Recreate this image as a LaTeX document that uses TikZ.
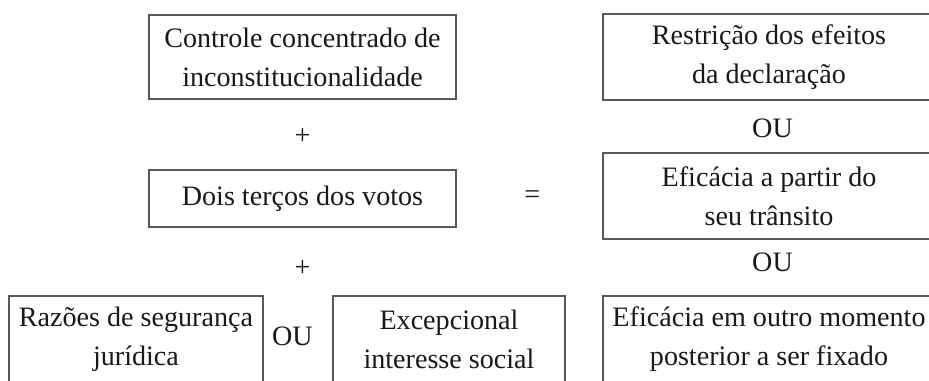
\documentclass[tikz,border=0pt]{standalone}
\usepackage{fontspec}
\setmainfont{Liberation Serif}
\usetikzlibrary{calc}

\begin{document}
\begin{tikzpicture}[font=\fontsize{16pt}{22.2pt}\selectfont, text=black!90,
  box/.style={rectangle, draw=black!65, line width=1pt, fill=white, align=center, inner sep=0pt}]
\useasboundingbox (0,0) rectangle (18.58,-7.62);

\coordinate (ctrl) at (6.05,-1.14);
\coordinate (dois) at ($(ctrl) + (0,-2.83)$);
\coordinate (restr) at (15.38,-1.14);
\coordinate (efic) at ($(restr) + (0,-2.78)$);
\coordinate (outro) at ($(efic) + (0,-2.86)$);
\coordinate (razoes) at (2.72,-6.78);
\coordinate (excep) at (8.98,-6.78);

\node[box, minimum width=6.14cm, minimum height=1.68cm] (n-ctrl) at (ctrl) {Controle concentrado de\\inconstitucionalidade};
\node (plus1) at ($(ctrl) + (0,-1.60)$) {+};
\node[box, minimum width=6.14cm, minimum height=1.14cm] (n-dois) at (dois) {Dois terços dos votos};
\node (plus2) at ($(dois) + (0,-1.40)$) {+};

\node[box, minimum width=5.08cm, minimum height=1.72cm] (n-razoes) at (razoes) {Razões de segurança\\jurídica};
\node (ou-mid) at ($(razoes)!0.5!(excep) + (0,0.06)$) {OU};
\node[box, minimum width=4.64cm, minimum height=1.72cm] (n-excep) at (excep) {Excepcional\\interesse social};

\node[box, minimum width=6.64cm, minimum height=1.72cm] (n-restr) at (restr) {Restrição dos efeitos\\da declaração};
\node (ou1) at ($(restr) + (0.07,-1.42)$) {OU};
\node[box, minimum width=6.64cm, minimum height=1.72cm] (n-efic) at (efic) {Eficácia a partir do\\seu trânsito};
\node (ou2) at ($(efic) + (0.07,-1.32)$) {OU};
\node[box, minimum width=6.64cm, minimum height=1.72cm] (n-outro) at (outro) {Eficácia em outro momento\\posterior a ser fixado};

\node (eq) at ($(n-dois.east)!0.52!(n-efic.west)$) {=};

\end{tikzpicture}
\end{document}
